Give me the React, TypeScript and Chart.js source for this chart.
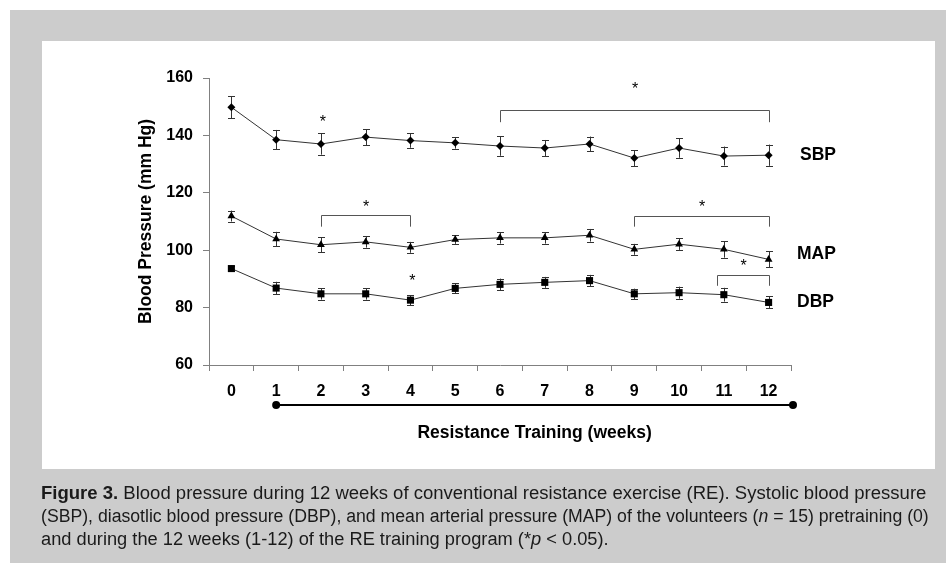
import React, { useEffect, useRef } from "react";
import { Chart, registerables } from "chart.js";

Chart.register(...registerables);

// ---------- data ----------
const weeks = ["0", "1", "2", "3", "4", "5", "6", "7", "8", "9", "10", "11", "12"];
const sbp = [149.8, 138.5, 137.0, 139.4, 138.2, 137.4, 136.3, 135.6, 137.0, 132.1, 135.6, 132.8, 133.1];
const sbpErr = [3.8, 3.4, 3.7, 2.8, 2.5, 2.0, 3.4, 2.8, 2.6, 2.8, 3.4, 3.3, 3.7];
const mapVals = [111.9, 103.9, 101.9, 102.9, 101.0, 103.7, 104.3, 104.3, 105.2, 100.3, 102.1, 100.3, 96.8];
const mapErr = [1.9, 2.5, 2.6, 2.0, 1.9, 1.5, 2.0, 2.0, 2.2, 1.9, 2.0, 2.9, 2.8];
const dbp = [93.6, 86.8, 84.8, 84.8, 82.6, 86.7, 88.1, 88.8, 89.4, 84.8, 85.2, 84.5, 81.8];
const dbpErr = [1.0, 2.2, 2.0, 2.0, 1.7, 1.7, 2.0, 1.9, 2.0, 1.8, 2.1, 2.4, 2.1];
const yMin = 60;
const yMax = 160;
const yStep = 20;

const seriesNames = ["SBP", "MAP", "DBP"];
const seriesLabelValues = [133.2, 98.7, 82.0];

// significance brackets: from/to week index, bar value, leg end value, star value
const brackets = [
  { from: 6, to: 12, bar: 148.9, leg: 144.6, star: 157.0 },
  { from: 2, to: 4, bar: 112.2, leg: 108.2, star: 115.8 },
  { from: 9, to: 12, bar: 112.0, leg: 108.2, star: 115.8 },
  { from: 10.85, to: 12, bar: 91.4, leg: 87.6, star: 95.4 },
];
const singleStars = [
  { at: 2, value: 145.6 },
  { at: 4, value: 90.1 },
];

const xTitle = "Resistance Training (weeks)";
const yTitle = "Blood Pressure (mm Hg)";
const trainingStart = 1;

const captionLines = [
  ["Figure 3.", " Blood pressure during 12 weeks of conventional resistance exercise (RE). Systolic blood pressure"],
  ["", "(SBP), diasotlic blood pressure (DBP), and mean arterial pressure (MAP) of the volunteers (", "n", " = 15) pretraining (0)"],
  ["", "and during the 12 weeks (1-12) of the RE training program (*", "p", " < 0.05)."],
];
const captionScale = [1.029, 0.981, 1.014];

const FONT = "'Liberation Sans', Arial, Helvetica, sans-serif";

const errorBars = [sbpErr, mapErr, dbpErr];

const annotationPlugin = {
  id: "annotations",
  beforeDatasetsDraw(chart: any) {
    const { ctx } = chart;
    const x = chart.scales.x;
    const y = chart.scales.y;
    ctx.save();
    ctx.strokeStyle = "#333";
    ctx.lineWidth = 1;
    chart.data.datasets.forEach((ds: any, di: number) => {
      const errs = errorBars[di];
      ds.data.forEach((v: number, i: number) => {
        const px = Math.round(x.getPixelForValue(i)) + 0.5;
        const top = y.getPixelForValue(v + errs[i]);
        const bot = y.getPixelForValue(v - errs[i]);
        ctx.beginPath();
        ctx.moveTo(px, top);
        ctx.lineTo(px, bot);
        ctx.moveTo(px - 3.5, Math.round(top) + 0.5);
        ctx.lineTo(px + 3.5, Math.round(top) + 0.5);
        ctx.moveTo(px - 3.5, Math.round(bot) + 0.5);
        ctx.lineTo(px + 3.5, Math.round(bot) + 0.5);
        ctx.stroke();
      });
    });
    ctx.restore();
  },
  afterDatasetsDraw(chart: any) {
    const { ctx, chartArea } = chart;
    const x = chart.scales.x;
    const y = chart.scales.y;
    ctx.save();
    // brackets
    ctx.strokeStyle = "#555";
    ctx.lineWidth = 1;
    ctx.fillStyle = "#000";
    ctx.font = `16px ${FONT}`;
    ctx.textAlign = "center";
    ctx.textBaseline = "middle";
    brackets.forEach((b) => {
      const x1 = Math.round(x.getPixelForValue(b.from)) + 0.5;
      const x2 = Math.round(x.getPixelForValue(b.to)) + 0.5;
      const yb = Math.round(y.getPixelForValue(b.bar)) + 0.5;
      const yl = y.getPixelForValue(b.leg);
      ctx.beginPath();
      ctx.moveTo(x1, yl);
      ctx.lineTo(x1, yb);
      ctx.lineTo(x2, yb);
      ctx.lineTo(x2, yl);
      ctx.stroke();
      ctx.fillText("*", (x1 + x2) / 2, y.getPixelForValue(b.star) + 3);
    });
    singleStars.forEach((s) => {
      ctx.fillText("*", x.getPixelForValue(s.at) + 2, y.getPixelForValue(s.value) + 3);
    });
    // series labels
    ctx.font = `bold 17.5px ${FONT}`;
    ctx.textAlign = "left";
    seriesNames.forEach((n, i) => {
      ctx.fillText(n, chartArea.right + (i === 0 ? 9 : 6), y.getPixelForValue(seriesLabelValues[i]));
    });
    // training timeline
    const tx1 = x.getPixelForValue(trainingStart);
    const tx2 = x.right + 2;
    const ty = x.top + 40;
    ctx.strokeStyle = "#000";
    ctx.lineWidth = 2;
    ctx.beginPath();
    ctx.moveTo(tx1, ty);
    ctx.lineTo(tx2, ty);
    ctx.stroke();
    ctx.beginPath();
    ctx.arc(tx1, ty, 4, 0, Math.PI * 2);
    ctx.arc(tx2, ty, 4, 0, Math.PI * 2);
    ctx.fill();
    // x title
    ctx.font = `bold 17.5px ${FONT}`;
    ctx.textAlign = "center";
    ctx.fillText(xTitle, (tx1 + tx2) / 2, x.top + 68);
    ctx.restore();
  },
};

export default function App() {
  const ref = useRef<HTMLCanvasElement | null>(null);

  useEffect(() => {
    if (!ref.current) return;
    const mk = (label: string, data: number[], style: string, r: number) => ({
      label,
      data,
      borderColor: "#333",
      borderWidth: 1,
      backgroundColor: "#000",
      pointBackgroundColor: "#000",
      pointBorderColor: "#000",
      pointBorderWidth: 0,
      pointStyle: style,
      pointRadius: r,
      tension: 0,
      fill: false,
    });
    const chart = new Chart(ref.current, {
      type: "line",
      data: {
        labels: weeks,
        datasets: [
          mk("SBP", sbp, "rectRot", 4),
          mk("MAP", mapVals, "triangle", 4.5),
          mk("DBP", dbp, "rect", 5),
        ],
      },
      plugins: [annotationPlugin],
      options: {
        animation: false,
        responsive: false,
        devicePixelRatio: 1,
        layout: { padding: { left: 132, right: 155, top: 78, bottom: 168 } },
        plugins: {
          legend: { display: false },
          tooltip: { enabled: false },
        },
        scales: {
          x: {
            type: "category",
            offset: true,
            grid: {
              offset: true,
              drawOnChartArea: false,
              drawTicks: true,
              tickLength: 6,
              color: "#808080",
            },
            border: { color: "#808080", width: 1 },
            ticks: {
              color: "#000",
              font: { family: FONT, size: 16, weight: "bold" },
              padding: 11,
              maxRotation: 0,
              autoSkip: false,
            },
            afterFit: (s: any) => {
              s.height = 40;
            },
          },
          y: {
            min: yMin,
            max: yMax,
            grid: {
              drawOnChartArea: false,
              drawTicks: true,
              tickLength: 6,
              color: "#808080",
            },
            border: { color: "#808080", width: 1 },
            ticks: {
              stepSize: yStep,
              color: "#000",
              font: { family: FONT, size: 16, weight: "bold" },
              padding: 10,
            },
            title: {
              display: true,
              text: yTitle,
              color: "#000",
              font: { family: FONT, size: 17.5, weight: "bold" },
            },
            afterFit: (s: any) => {
              s.width = 77;
            },
          },
        },
      },
    } as any);
    return () => chart.destroy();
  }, []);

  return (
    <div
      style={{
        position: "fixed",
        left: 0,
        top: 0,
        width: 946,
        height: 573,
        background: "#fff",
        overflow: "hidden",
      }}
    >
      <div style={{ position: "absolute", left: 10, top: 10, width: 936, height: 553, background: "#cccccc" }} />
      <div style={{ position: "absolute", left: 42, top: 41, width: 893, height: 428, background: "#fff" }} />
      <canvas
        ref={ref}
        width={946}
        height={573}
        style={{ position: "absolute", left: 0, top: 0, width: 946, height: 573 }}
      />
      <div
        style={{
          position: "absolute",
          left: 41,
          top: 482,
          fontFamily: FONT,
          fontSize: 18,
          lineHeight: "23px",
          color: "#1a1a1a",
          whiteSpace: "nowrap",
        }}
      >
        {captionLines.map((parts, li) => (
          <div key={li} style={{ transform: `scaleX(${captionScale[li]})`, transformOrigin: "left center" }}>
            {parts.map((p, pi) =>
              li === 0 && pi === 0 ? (
                <b key={pi}>{p}</b>
              ) : pi === 2 ? (
                <i key={pi}>{p}</i>
              ) : (
                <span key={pi}>{p}</span>
              )
            )}
          </div>
        ))}
      </div>
    </div>
  );
}
